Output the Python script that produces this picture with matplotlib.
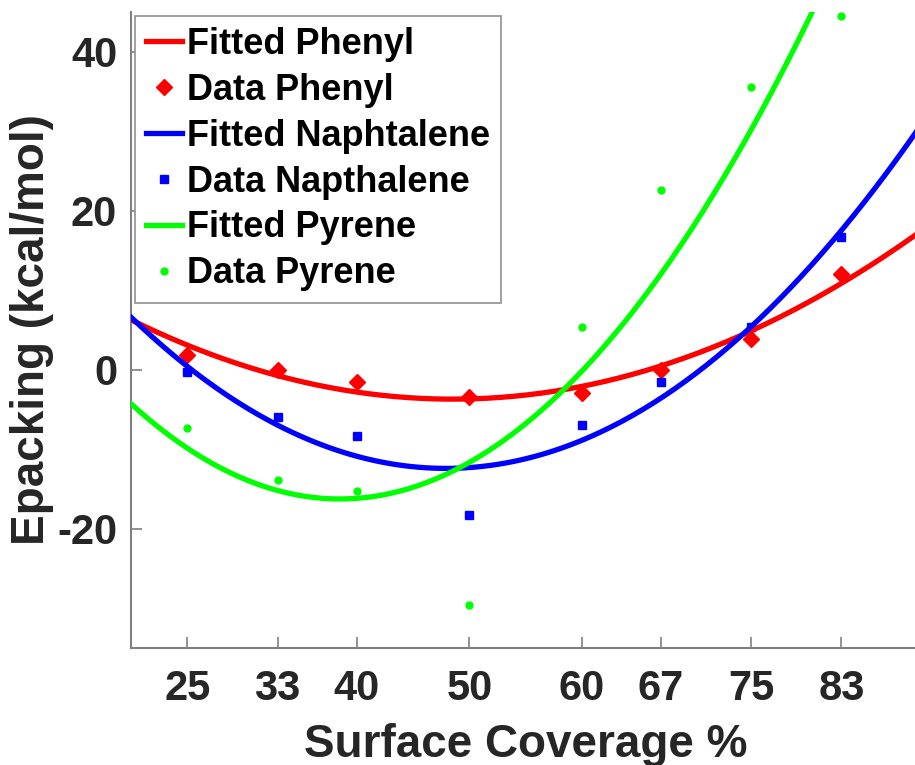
import numpy as np
import matplotlib.pyplot as plt

plt.rcParams['font.family'] = ['Liberation Sans', 'DejaVu Sans']
plt.rcParams['font.weight'] = 'bold'
plt.rcParams['axes.unicode_minus'] = False

# surface coverage (%) and packing energies (kcal/mol)
coverage = [25, 33, 40, 50, 60, 67, 75, 83]
phenyl = [1.9, 0.0, -1.5, -3.4, -2.9, 0.0, 3.9, 12.0]
naphthalene = [-0.25, -6.0, -8.3, -18.3, -7.0, -1.5, 5.4, 16.7]
pyrene = [-7.3, -13.9, -15.3, -29.6, 5.4, 22.6, 35.6, 44.5]

x_ticks = [25, 33, 40, 50, 60, 67, 75, 83]
y_ticks = [40, 20, 0, -20]

fig = plt.figure(figsize=(9.15, 7.65), dpi=100)
ax = fig.add_axes([0.1432, 0.153, 0.8627, 0.8314])

xfit = np.linspace(20, 90, 300)
# (fit label, data label, values, colour, marker, marker size)
series = [
    ("Fitted Phenyl", "Data Phenyl", phenyl, "#ff0000", "D", 8),
    ("Fitted Naphtalene", "Data Napthalene", naphthalene, "#0000ff", "s", 6),
    ("Fitted Pyrene", "Data Pyrene", pyrene, "#00ff00", "o", 5),
]
for fit_label, data_label, vals, col, mk, ms in series:
    # quadratic fit, like the original
    coef = np.polyfit(coverage, vals, 2)
    ax.plot(xfit, np.polyval(coef, xfit), color=col, lw=3.8, zorder=3, label=fit_label)
    ax.plot(coverage, vals, linestyle="none", marker=mk, color=col, ms=ms,
            zorder=2, label=data_label)

ax.set_xlim(20, 90)
ax.set_ylim(-35, 45)
ax.set_xticks(x_ticks)
ax.set_yticks(y_ticks)
ax.tick_params(direction="in", length=8, width=1.2, color="#808080",
               labelsize=30, labelcolor="#262626")
ax.tick_params(axis="y", pad=10)
ax.tick_params(axis="x", pad=15)
for s in ["top", "right"]:
    ax.spines[s].set_visible(False)
for s in ["left", "bottom"]:
    ax.spines[s].set_color("#808080")
    ax.spines[s].set_linewidth(1.5)

ax.set_xlabel("Surface Coverage %", fontsize=33, fontweight="bold", color="#262626", labelpad=10)
ax.set_ylabel("Epacking (kcal/mol)", fontsize=33, fontweight="bold", color="#262626", labelpad=2)

leg = ax.legend(loc="upper left", fontsize=26, frameon=True, fancybox=False,
                edgecolor="#909090", framealpha=1, borderaxespad=0.1,
                handlelength=1.0, handletextpad=0.12, labelspacing=0.3,
                borderpad=0.32)
leg.get_frame().set_linewidth(1.2)
for t in leg.get_texts():
    t.set_fontweight("bold")
    t.set_color("black")

fig.savefig("out.png", dpi=100)
